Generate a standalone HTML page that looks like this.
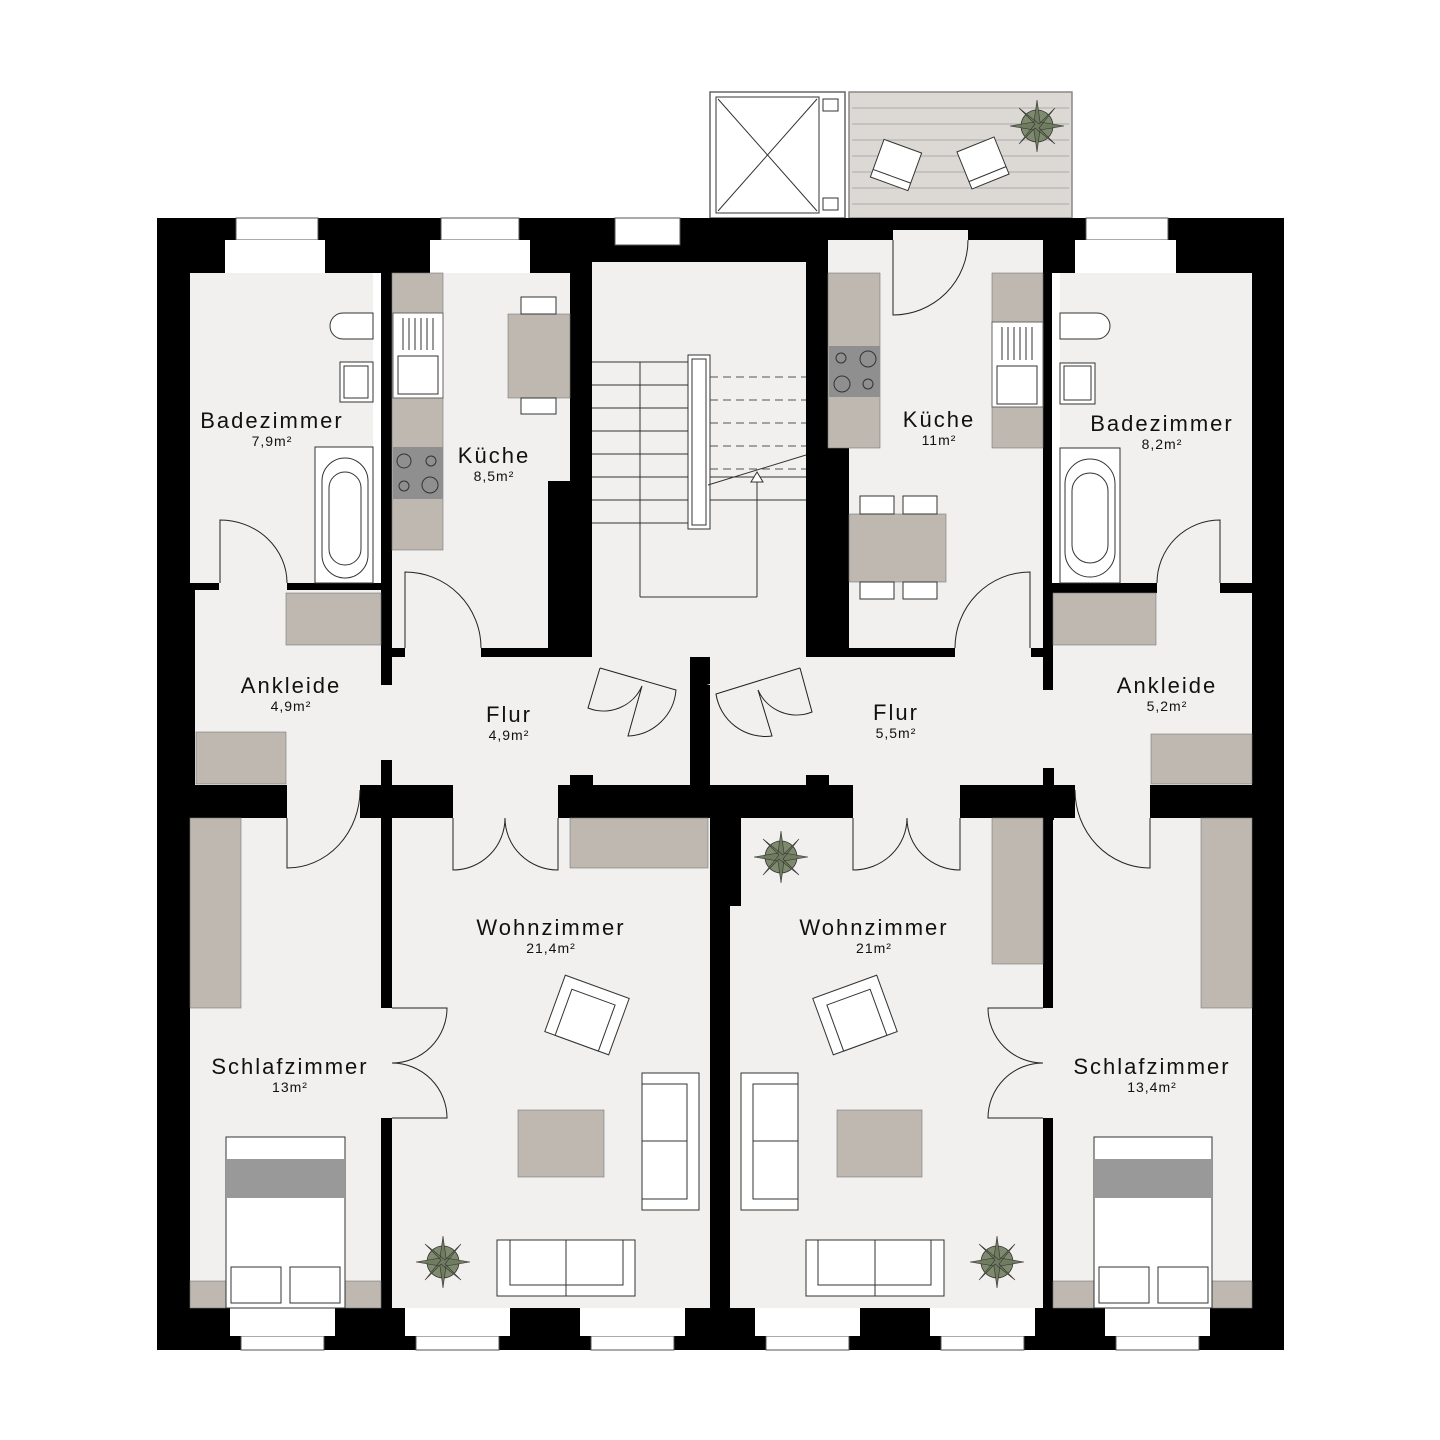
<!DOCTYPE html>
<html><head><meta charset="utf-8"><style>html,body{margin:0;padding:0;background:#fff}svg{display:block}</style></head>
<body>
<svg width="1440" height="1440" viewBox="0 0 1440 1440" xmlns="http://www.w3.org/2000/svg" font-family="Liberation Sans, sans-serif">
<rect width="1440" height="1440" fill="#fff"/>
<!-- top shaft & balcony -->
<rect x="710" y="92" width="135" height="126" fill="#fff" stroke="#666" stroke-width="1.5"/>
<rect x="716" y="97" width="103" height="116" fill="#fff" stroke="#333"/>
<line x1="718" y1="99" x2="817" y2="211" stroke="#333"/><line x1="817" y1="99" x2="718" y2="211" stroke="#333"/>
<rect x="823" y="99" width="15" height="12" fill="#fff" stroke="#333"/><rect x="823" y="198" width="15" height="12" fill="#fff" stroke="#333"/>
<rect x="849" y="92" width="223" height="126" fill="#dcd9d5" stroke="#888" stroke-width="1.5"/>
<g stroke="#aaa" stroke-width="1">
<line x1="852" y1="108" x2="1069" y2="108"/><line x1="852" y1="124" x2="1069" y2="124"/><line x1="852" y1="140" x2="1069" y2="140"/><line x1="852" y1="156" x2="1069" y2="156"/><line x1="852" y1="172" x2="1069" y2="172"/><line x1="852" y1="188" x2="1069" y2="188"/><line x1="852" y1="204" x2="1069" y2="204"/></g>
<rect x="893" y="218" width="75" height="22" fill="#dcd9d5"/>
<g transform="rotate(20 896 165)"><rect x="876" y="145" width="40" height="40" fill="#fff" stroke="#333"/><line x1="876" y1="177" x2="916" y2="177" stroke="#333"/></g>
<g transform="rotate(-22 983 163)"><rect x="963" y="143" width="40" height="40" fill="#fff" stroke="#333"/><line x1="963" y1="175" x2="1003" y2="175" stroke="#333"/></g>
<g id="plant"><circle cx="1037" cy="126" r="16" fill="#7e8a6d" stroke="#333" stroke-width=".8"/><path d="M1037 100 L1040 122 L1064 126 L1040 130 L1037 152 L1034 130 L1010 126 L1034 122Z M1019 108 L1039 124 L1055 108 L1039 128 L1055 144 L1035 128 L1019 144 L1035 124Z" fill="#6f7c5f" stroke="#333" stroke-width=".6"/></g>

<!-- building black -->
<rect x="157" y="218" width="1127" height="1132" fill="#000"/>
<!-- top windows -->
<g fill="#fff" stroke="#555" stroke-width="1">
<rect x="236" y="218" width="82" height="22"/><rect x="441" y="218" width="78" height="22"/>
<rect x="615" y="218" width="65" height="27"/><rect x="1086" y="218" width="82" height="22"/>
</g>
<g fill="#fff"><rect x="225" y="240" width="100" height="34"/><rect x="430" y="240" width="100" height="34"/><rect x="1075" y="240" width="101" height="34"/></g>

<!-- rooms -->
<g fill="#f1f0ee">
<rect x="190" y="273" width="183" height="310"/>
<rect x="373" y="273" width="8" height="310" fill="#fff"/>
<rect x="392" y="273" width="178" height="208"/><rect x="392" y="480" width="156" height="168"/>
<rect x="592" y="262" width="214" height="395"/>
<rect x="195" y="590" width="186" height="195"/><rect x="219" y="583" width="68" height="10"/>
<rect x="381" y="685" width="12" height="75"/>
<rect x="392" y="657" width="298" height="128"/><rect x="405" y="645" width="76" height="15"/>
<polygon points="592,655 690,690 806,655 806,690 592,690"/>
<rect x="710" y="657" width="333" height="128"/>
<polygon points="710,690 806,655 806,690"/>
<rect x="828" y="240" width="215" height="208"/><rect x="893" y="230" width="75" height="15"/>
<rect x="849" y="448" width="194" height="200"/><rect x="955" y="645" width="76" height="15"/>
<rect x="1052" y="273" width="8" height="310" fill="#fff"/>
<rect x="1060" y="273" width="192" height="310"/>
<rect x="1053" y="593" width="199" height="192"/><rect x="1157" y="580" width="63" height="15"/>
<rect x="1043" y="690" width="12" height="78"/>
<rect x="190" y="818" width="191" height="490"/><rect x="287" y="785" width="73" height="35"/>
<rect x="392" y="818" width="318" height="490"/>
<rect x="453" y="785" width="105" height="35"/>
<rect x="381" y="1008" width="12" height="110"/>
<rect x="741" y="818" width="302" height="490"/><rect x="730" y="906" width="20" height="402"/>
<rect x="853" y="785" width="107" height="35"/>
<rect x="1043" y="1008" width="12" height="110"/>
<rect x="1053" y="818" width="199" height="490"/><rect x="1075" y="785" width="75" height="35"/>
</g>
<!-- small wall notches -->
<g fill="#000"><rect x="570" y="775" width="23" height="12"/><rect x="806" y="775" width="23" height="12"/><rect x="690" y="685" width="20" height="100"/><rect x="381" y="760" width="11" height="60"/><rect x="1043" y="768" width="11" height="52"/><rect x="362" y="785" width="30" height="33"/><rect x="1043" y="640" width="10" height="50"/><rect x="381" y="645" width="11" height="40"/></g>

<!-- bottom windows -->
<g fill="#fff" stroke="#555"><rect x="241" y="1336" width="83" height="14"/><rect x="416" y="1336" width="83" height="14"/><rect x="591" y="1336" width="83" height="14"/><rect x="766" y="1336" width="83" height="14"/><rect x="941" y="1336" width="83" height="14"/><rect x="1116" y="1336" width="83" height="14"/></g>
<g fill="#fff"><rect x="230" y="1308" width="105" height="28"/><rect x="405" y="1308" width="105" height="28"/><rect x="580" y="1308" width="105" height="28"/><rect x="755" y="1308" width="105" height="28"/><rect x="930" y="1308" width="105" height="28"/><rect x="1105" y="1308" width="105" height="28"/></g>

<!-- grey furniture -->
<g fill="#beb8b1" stroke="#777" stroke-width=".6">
<rect x="286" y="593" width="95" height="52"/><rect x="196" y="732" width="90" height="52"/>
<rect x="392" y="273" width="51" height="277"/>
<rect x="508" y="314" width="62" height="84"/>
<rect x="190" y="818" width="51" height="190"/>
<rect x="570" y="818" width="138" height="50"/>
<rect x="518" y="1110" width="86" height="67"/><rect x="837" y="1110" width="85" height="67"/>
<rect x="828" y="273" width="52" height="175"/>
<rect x="992" y="273" width="51" height="175"/>
<rect x="849" y="514" width="97" height="68"/>
<rect x="1053" y="593" width="103" height="52"/><rect x="1151" y="734" width="101" height="50"/>
<rect x="992" y="818" width="51" height="146"/><rect x="1201" y="818" width="51" height="190"/>
<rect x="190" y="1281" width="191" height="27"/><rect x="1053" y="1281" width="199" height="27"/>
</g>
<!-- stoves & sinks -->
<rect x="393" y="447" width="50" height="52" fill="#8f8f8f"/>
<g fill="none" stroke="#333"><circle cx="404" cy="461" r="7"/><circle cx="431" cy="461" r="5"/><circle cx="404" cy="486" r="5"/><circle cx="430" cy="485" r="8"/></g>
<rect x="829" y="346" width="51" height="51" fill="#8f8f8f"/>
<g fill="none" stroke="#333"><circle cx="841" cy="358" r="5"/><circle cx="868" cy="359" r="8"/><circle cx="842" cy="384" r="8"/><circle cx="868" cy="384" r="5"/></g>
<rect x="393" y="313" width="50" height="85" fill="#fff" stroke="#666"/><rect x="398" y="356" width="40" height="38" fill="#fff" stroke="#333"/>
<g stroke="#333"><line x1="403" y1="318" x2="403" y2="350"/><line x1="409" y1="318" x2="409" y2="350"/><line x1="415" y1="318" x2="415" y2="350"/><line x1="421" y1="318" x2="421" y2="350"/><line x1="427" y1="318" x2="427" y2="350"/><line x1="433" y1="318" x2="433" y2="350"/></g>
<rect x="992" y="322" width="51" height="85" fill="#fff" stroke="#666"/><rect x="997" y="366" width="40" height="38" fill="#fff" stroke="#333"/>
<g stroke="#333"><line x1="1002" y1="327" x2="1002" y2="360"/><line x1="1008" y1="327" x2="1008" y2="360"/><line x1="1014" y1="327" x2="1014" y2="360"/><line x1="1020" y1="327" x2="1020" y2="360"/><line x1="1026" y1="327" x2="1026" y2="360"/><line x1="1032" y1="327" x2="1032" y2="360"/></g>
<!-- chairs -->
<g fill="#fff" stroke="#333"><rect x="521" y="297" width="35" height="17"/><rect x="521" y="398" width="35" height="16"/>
<rect x="860" y="496" width="34" height="18"/><rect x="903" y="496" width="34" height="18"/><rect x="860" y="582" width="34" height="17"/><rect x="903" y="582" width="34" height="17"/></g>
<!-- bath fixtures -->
<g fill="#fff" stroke="#333">
<path d="M373 313 L343 313 A13 13 0 0 0 343 339 L373 339Z"/><path d="M1060 313 L1097 313 A13 13 0 0 1 1097 339 L1060 339Z"/>
<rect x="340" y="362" width="33" height="40"/><rect x="344" y="366" width="24" height="32"/>
<rect x="1060" y="363" width="35" height="41"/><rect x="1064" y="366" width="27" height="34"/>
<rect x="315" y="447" width="58" height="136"/><rect x="322" y="458" width="46" height="120" rx="23"/><rect x="329" y="472" width="32" height="93" rx="16"/>
<rect x="1060" y="448" width="60" height="135"/><rect x="1065" y="459" width="50" height="118" rx="25"/><rect x="1072" y="473" width="36" height="90" rx="18"/>
</g>
<!-- stairs -->
<g stroke="#333" fill="none">
<line x1="592" y1="362" x2="688" y2="362"/><line x1="592" y1="385" x2="688" y2="385"/><line x1="592" y1="408" x2="688" y2="408"/><line x1="592" y1="431" x2="688" y2="431"/><line x1="592" y1="454" x2="688" y2="454"/><line x1="592" y1="477" x2="688" y2="477"/><line x1="592" y1="500" x2="688" y2="500"/><line x1="592" y1="523" x2="688" y2="523"/>
<line x1="640" y1="362" x2="640" y2="597"/><line x1="640" y1="597" x2="757" y2="597"/><line x1="757" y1="597" x2="757" y2="480"/>
<line x1="710" y1="500" x2="806" y2="500"/><line x1="710" y1="477" x2="806" y2="477"/>
<rect x="688" y="355" width="22" height="174" fill="#fff"/><rect x="692" y="359" width="14" height="166"/>
<g stroke-dasharray="8,5" stroke="#555"><line x1="710" y1="377" x2="806" y2="377"/><line x1="710" y1="400" x2="806" y2="400"/><line x1="710" y1="423" x2="806" y2="423"/><line x1="710" y1="446" x2="806" y2="446"/><line x1="710" y1="469" x2="806" y2="469"/></g>
<line x1="708" y1="485" x2="806" y2="455"/><polygon points="757,472 751,482 763,482" fill="#fff"/>
</g>
<!-- doors -->
<g fill="none" stroke="#222" stroke-width="1">
<path d="M220 583 L220 520 A67 63 0 0 1 287 583"/>
<path d="M405 648 L405 572 A76 76 0 0 1 481 648"/>
<path d="M893 240 L893 315 A75 75 0 0 0 968 240"/>
<path d="M1030 648 L1030 572 A75 76 0 0 0 955 648"/>
<path d="M1220 583 L1220 520 A63 63 0 0 0 1157 583"/>
<path d="M287 818 L287 868 A73 78 0 0 0 360 790"/>
<path d="M453 818 L453 870 A52 52 0 0 0 505 818 A53 52 0 0 0 558 870 L558 818"/>
<path d="M853 818 L853 870 A54 52 0 0 0 907 818 A53 52 0 0 0 960 870 L960 818"/>
<path d="M1150 818 L1150 868 A75 78 0 0 1 1075 790"/>
<path d="M392 1008 L447 1008 A55 55 0 0 1 392 1063 A55 55 0 0 1 447 1118 L392 1118"/>
<path d="M1043 1008 L988 1008 A55 55 0 0 0 1043 1063 A55 55 0 0 0 988 1118 L1043 1118"/>
<path d="M600 668 L588 708 A42 42 0 0 0 642 686 L628 736 A50 50 0 0 0 676 690 L600 668"/>
<path d="M800 668 L812 712 A42 42 0 0 1 758 690 L772 736 A50 50 0 0 1 716 694 L800 668"/>
</g>
<!-- living furniture -->
<g fill="#fff" stroke="#333">
<g transform="rotate(20 587 1015)"><rect x="553" y="985" width="68" height="60"/><rect x="564" y="996" width="46" height="49"/></g>
<g transform="rotate(-20 855 1015)"><rect x="821" y="985" width="68" height="60"/><rect x="832" y="996" width="46" height="49"/></g>
<rect x="642" y="1073" width="57" height="137"/><rect x="642" y="1084" width="45" height="115"/><line x1="642" y1="1141" x2="687" y2="1141"/>
<rect x="741" y="1073" width="57" height="137"/><rect x="753" y="1084" width="45" height="115"/><line x1="753" y1="1141" x2="798" y2="1141"/>
<rect x="497" y="1240" width="138" height="56"/><rect x="510" y="1240" width="113" height="45"/><line x1="566" y1="1240" x2="566" y2="1296"/>
<rect x="806" y="1240" width="138" height="56"/><rect x="818" y="1240" width="113" height="45"/><line x1="875" y1="1240" x2="875" y2="1296"/>
<rect x="226" y="1137" width="119" height="171"/><rect x="1094" y="1137" width="118" height="171"/>
<rect x="231" y="1267" width="50" height="36"/><rect x="290" y="1267" width="50" height="36"/>
<rect x="1099" y="1267" width="50" height="36"/><rect x="1158" y="1267" width="50" height="36"/>
</g>
<rect x="227" y="1159" width="118" height="39" fill="#999"/><rect x="1095" y="1159" width="117" height="39" fill="#999"/>
<use href="#plant" x="-256" y="731"/><use href="#plant" x="-594" y="1136"/><use href="#plant" x="-40" y="1136"/>

<!-- labels -->
<g fill="#111" text-anchor="middle">
<g font-size="22" letter-spacing="2">
<text x="272" y="428">Badezimmer</text><text x="494" y="463">Küche</text><text x="939" y="427">Küche</text><text x="1162" y="431">Badezimmer</text>
<text x="291" y="693">Ankleide</text><text x="509" y="722">Flur</text><text x="896" y="720">Flur</text><text x="1167" y="693">Ankleide</text>
<text x="551" y="935">Wohnzimmer</text><text x="874" y="935">Wohnzimmer</text>
<text x="290" y="1074">Schlafzimmer</text><text x="1152" y="1074">Schlafzimmer</text>
</g>
<g font-size="14" letter-spacing="1">
<text x="272" y="446">7,9m²</text><text x="494" y="481">8,5m²</text><text x="939" y="445">11m²</text><text x="1162" y="449">8,2m²</text>
<text x="291" y="711">4,9m²</text><text x="509" y="740">4,9m²</text><text x="896" y="738">5,5m²</text><text x="1167" y="711">5,2m²</text>
<text x="551" y="953">21,4m²</text><text x="874" y="953">21m²</text><text x="290" y="1092">13m²</text><text x="1152" y="1092">13,4m²</text>
</g></g>
</svg>
</body></html>
